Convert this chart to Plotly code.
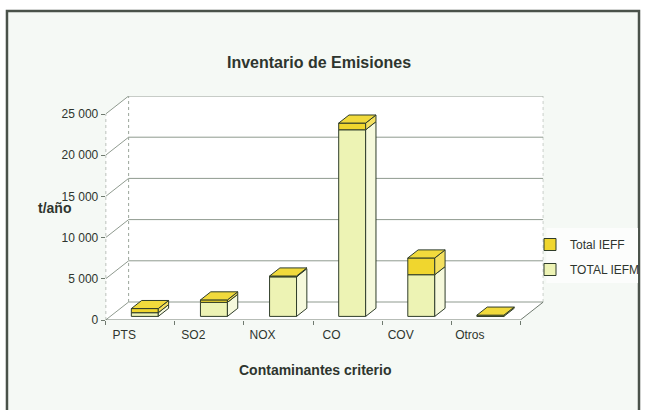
import plotly.graph_objects as go

# ---- data ----
categories = ["PTS", "SO2", "NOX", "CO", "COV", "Otros"]
total_iefm = [450, 1700, 4800, 22650, 5060, 0]
total_ieff = [500, 300, 100, 810, 2030, 150]
y_tick_vals = [0, 5000, 10000, 15000, 20000, 25000]
y_tick_text = ["0", "5 000", "10 000", "15 000", "20 000", "25 000"]

# ---- 3D look parameters ----
DX = 0.332      # wall depth in category units
DY = 2185       # wall depth in value units
F0 = 0.2        # bar front depth fraction
BD = 0.45       # bar depth fraction
W = 0.39        # bar width
YMAX = 25000 + DY

SANS = "Liberation Sans, Arial, sans-serif"
TXT = "#2e352e"
EDGE = "#2f3d2a"
C_IEFM = "#edf3b4"
C_IEFM_SIDE = "#f6f9dc"
C_IEFF = "#f0d62e"
C_IEFF_SIDE = "#f4e060"
C_TOP = "#f1da3c"

idx = list(range(len(categories)))
fx, fy = F0 * DX, F0 * DY
ddx, ddy = BD * DX, BD * DY

fig = go.Figure()

fig.add_trace(go.Bar(
    x=idx, y=total_iefm, base=[fy] * len(idx), width=W, offset=-W / 2 + fx,
    name="TOTAL IEFM", marker=dict(color=C_IEFM, line=dict(color=EDGE, width=1)),
    legendgroup="b", legendrank=2, hoverinfo="skip"))
fig.add_trace(go.Bar(
    x=idx, y=total_ieff, base=[fy + m for m in total_iefm], width=W, offset=-W / 2 + fx,
    name="Total IEFF", marker=dict(color=C_IEFF, line=dict(color=EDGE, width=1)),
    legendgroup="a", legendrank=1, hoverinfo="skip"))

side_m_x, side_m_y, side_f_x, side_f_y, top_x, top_y = [], [], [], [], [], []
for i, m, f in zip(idx, total_iefm, total_ieff):
    xl = i - W / 2 + fx
    xr = xl + W
    b0 = fy
    b1 = fy + m
    b2 = b1 + f
    if m > 0:
        side_m_x += [xr, xr + ddx, xr + ddx, xr, xr, None]
        side_m_y += [b0, b0 + ddy, b1 + ddy, b1, b0, None]
    if f > 0:
        side_f_x += [xr, xr + ddx, xr + ddx, xr, xr, None]
        side_f_y += [b1, b1 + ddy, b2 + ddy, b2, b1, None]
    top_x += [xl, xr, xr + ddx, xl + ddx, xl, None]
    top_y += [b2, b2, b2 + ddy, b2 + ddy, b2, None]

for xs, ys, col in [(side_m_x, side_m_y, C_IEFM_SIDE), (side_f_x, side_f_y, C_IEFF_SIDE), (top_x, top_y, C_TOP)]:
    fig.add_trace(go.Scatter(x=xs, y=ys, mode="lines", fill="toself", fillcolor=col,
                             line=dict(color=EDGE, width=1), showlegend=False, hoverinfo="skip"))

shapes = []
# outer frame
shapes.append(dict(type="rect", xref="paper", yref="paper", x0=7 / 645, x1=641 / 645, y0=-0.05, y1=1 - 11 / 410,
                   fillcolor="#f5f9f5", line=dict(color="#4a524a", width=2.5), layer="below"))
# legend box
shapes.append(dict(type="rect", xref="paper", yref="paper", x0=548 / 645, x1=640 / 645,
                   y0=1 - 283 / 410, y1=1 - 228 / 410, fillcolor="#fcfdfc", line=dict(width=0), layer="below"))
xa, xb = -0.5, 5.5
walls = [
    f"M {xa+DX},{DY} L {xb+DX},{DY} L {xb+DX},{25000+DY} L {xa+DX},{25000+DY} Z",
    f"M {xa},0 L {xa+DX},{DY} L {xa+DX},{25000+DY} L {xa},25000 Z",
    f"M {xa},0 L {xb},0 L {xb+DX},{DY} L {xa+DX},{DY} Z",
]
for p in walls:
    shapes.append(dict(type="path", xref="x", yref="y", path=p, fillcolor="white", line=dict(width=0), layer="below"))
for v in y_tick_vals:
    shapes.append(dict(type="path", xref="x", yref="y",
                       path=f"M {xa},{v} L {xa+DX},{v+DY} L {xb+DX},{v+DY}",
                       line=dict(color="#8f9a8f", width=1), layer="below"))
shapes.append(dict(type="line", xref="x", yref="y", x0=xa + DX, x1=xa + DX, y0=DY, y1=25000 + DY,
                   line=dict(color="#9aa49a", width=1, dash="dot"), layer="below"))
shapes.append(dict(type="line", xref="x", yref="y", x0=xb + DX, x1=xb + DX, y0=DY, y1=25000 + DY,
                   line=dict(color="#8f9a8f", width=1, dash="dot"), layer="below"))
shapes.append(dict(type="line", xref="x", yref="y", x0=xa, x1=xa, y0=0, y1=25000,
                   line=dict(color="#6f7a6f", width=1, dash="dot"), layer="below"))
shapes.append(dict(type="path", xref="x", yref="y", path=f"M {xa},0 L {xb},0 L {xb+DX},{DY}",
                   line=dict(color="#6f7a6f", width=1), layer="below"))

fig.update_layout(
    width=645, height=410,
    margin=dict(l=0, r=0, t=0, b=0),
    paper_bgcolor="white", plot_bgcolor="rgba(0,0,0,0)",
    barmode="overlay", showlegend=True,
    shapes=shapes,
    legend=dict(x=532 / 645, y=1 - 230 / 410, xanchor="left", yanchor="top",
                traceorder="grouped", tracegroupgap=6, bgcolor="rgba(0,0,0,0)",
                font=dict(family=SANS, size=12, color=TXT), itemwidth=30),
    xaxis=dict(domain=[106 / 645, 545 / 645], range=[xa, xb + DX], tickvals=idx, ticktext=categories,
               ticks="", showgrid=False, zeroline=False, showline=False, automargin=False,
               ticklabelshift=-16, ticklabelstandoff=6,
               tickfont=dict(family=SANS, size=12, color=TXT),
               minor=dict(tickvals=[-0.5, 0.5, 1.5, 2.5, 3.5, 4.5, 5.5], ticks="outside", ticklen=4,
                          tickcolor="#6f7a6f", showgrid=False)),
    yaxis=dict(domain=[90 / 410, 314 / 410], range=[0, YMAX], tickvals=y_tick_vals, ticktext=y_tick_text,
               ticks="outside", ticklen=4, tickcolor="#6f7a6f", showgrid=False, zeroline=False,
               showline=False, automargin=False,
               tickfont=dict(family=SANS, size=12, color=TXT)),
    annotations=[
        dict(text="<b>Inventario de Emisiones</b>", x=320 / 645, y=1 - 52 / 410, xref="paper", yref="paper",
             showarrow=False, font=dict(family=SANS, size=16, color=TXT)),
        dict(text="<b>t/año</b>", x=36 / 645, y=1 - 208 / 410, xref="paper", yref="paper",
             showarrow=False, font=dict(family=SANS, size=14, color=TXT)),
        dict(text="<b>Contaminantes criterio</b>", x=316 / 645, y=1 - 380 / 410, xref="paper", yref="paper",
             showarrow=False, font=dict(family=SANS, size=14, color=TXT)),
    ],
)

fig.write_html("out.html", config={"displayModeBar": False},
               post_script="document.body.style.margin='0';document.body.style.overflow='hidden';")
